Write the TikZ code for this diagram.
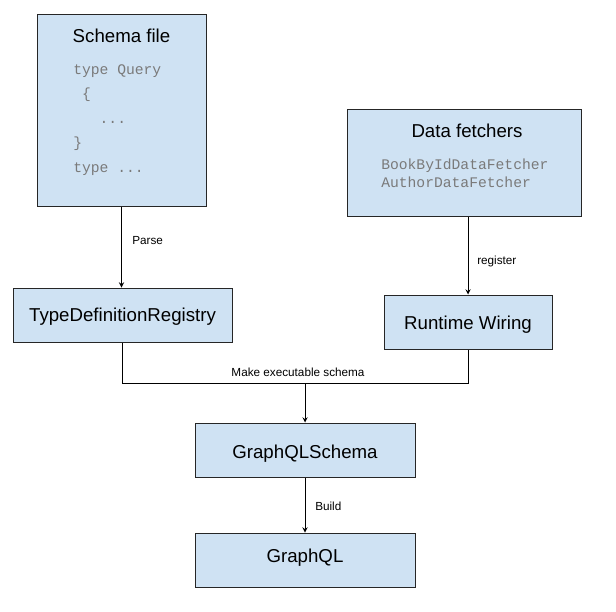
\documentclass[tikz,border=0pt]{standalone}
\usepackage{fontspec}
\setmainfont{Liberation Sans}
\setmonofont{Liberation Mono}
\usepackage{xcolor}
\usetikzlibrary{fit}
\definecolor{boxblue}{HTML}{CFE2F3}
\definecolor{codegray}{HTML}{7A7A7A}
\tikzstyle{box} = [draw=black!85, fill=boxblue, line width=0.75pt, inner sep=0pt]
\tikzstyle{boxtext} = [font=\fontsize{14}{16}\selectfont, anchor=base, inner sep=0pt]
\tikzstyle{codeline} = [font=\ttfamily\fontsize{11}{13}\selectfont, text=codegray, anchor=base west, inner sep=0pt]
\tikzstyle{edgetext} = [font=\fontsize{8.8}{10}\selectfont, inner sep=0pt]
\tikzstyle{line} = [line width=0.75pt, -]
\tikzstyle{arrow} = [line width=0.75pt, ->, >=stealth]

\begin{document}
\begin{tikzpicture}[x=0.75pt, y=-0.75pt]
        \useasboundingbox (0,0) rectangle (616,611);

        % Boxes
        \node[box, fit={(37,14) (206,206)}] (schema) {};
            \node[boxtext] (schematitle) at (121.5,42) {Schema file};
            \node[codeline] (q1) at (73,74) {type Query};
            \node[codeline] (q2) at (73,98.5) {\ \{};
            \node[codeline] (q3) at (73,123) {\ \ \ ...};
            \node[codeline] (q4) at (73,147.5) {\}};
            \node[codeline] (q5) at (73,172) {type ...};
        \node[box, fit={(347,109) (581,216)}] (fetchers) {};
            \node[boxtext] (fetcherstitle) at (467,137) {Data fetchers};
            \node[codeline] (f1) at (381,169) {BookByIdDataFetcher};
            \node[codeline] (f2) at (381,187) {AuthorDataFetcher};
        \node[box, fit={(13,288) (232,342)}] (registry) {};
            \node[boxtext] (registrytext) at (122.5,321.5) {TypeDefinitionRegistry};
        \node[box, fit={(384,295) (552,349)}] (wiring) {};
            \node[boxtext] (wiringtext) at (468,329) {Runtime Wiring};
        \node[box, fit={(195,423) (415,477)}] (gschema) {};
            \node[boxtext] (gschematext) at (305,458) {GraphQLSchema};
        \node[box, fit={(195,533) (415,587)}] (graphql) {};
            \node[boxtext] (graphqltext) at (305,562) {GraphQL};

        % Draw Arrows
        \draw[arrow] (schema.south) -- (schema.south |- registry.north);
            \node[edgetext, anchor=base west] (parse) at (132,244) {Parse};
        \draw[arrow] (wiring.north |- fetchers.south) -- (wiring.north);
            \node[edgetext, anchor=base west] (register) at (477,264) {register};

        \coordinate (merge) at (305,383);
        \draw[line] (registry.south) |- (merge) -| (wiring.south);
        \draw[arrow] (merge) -- (gschema.north);
            \node[edgetext, anchor=base] (make) at (298,376) {Make executable schema};

        \draw[arrow] (gschema.south) -- (graphql.north);
            \node[edgetext, anchor=base west] (build) at (315,510) {Build};
\end{tikzpicture}
\end{document}
